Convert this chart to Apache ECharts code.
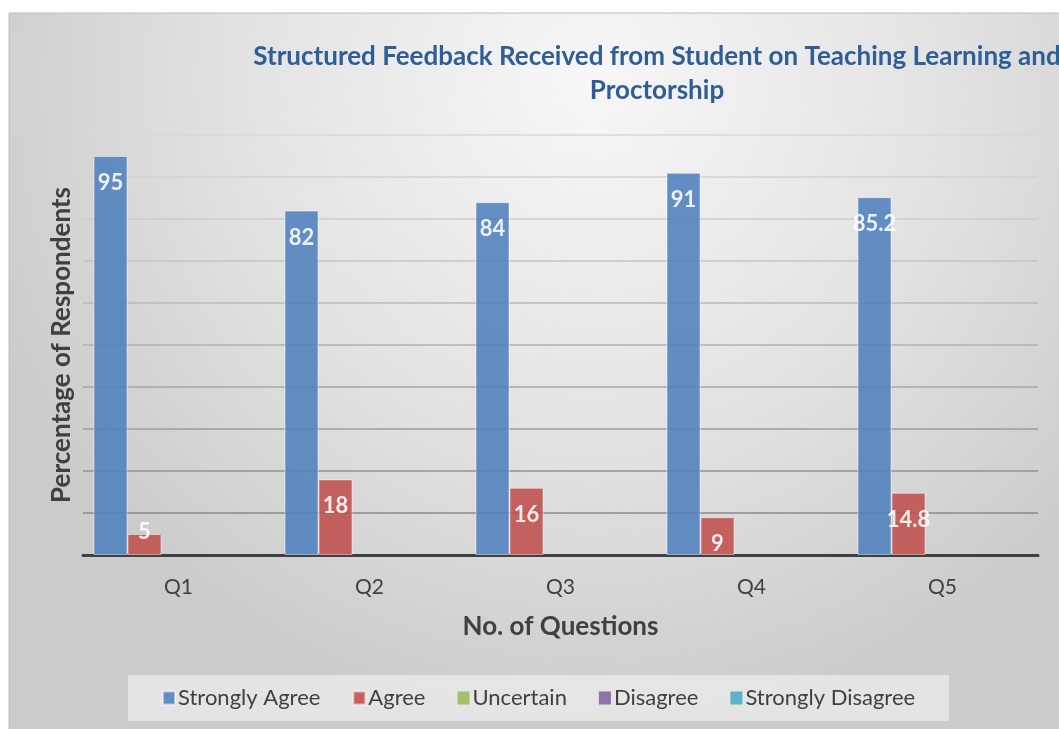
<!DOCTYPE html>
<html>
<head>
<meta charset="utf-8">
<script src="https://cdn.jsdelivr.net/npm/echarts@6.0.0/dist/echarts.min.js"></script>
<style>
  html, body { margin: 0; padding: 0; background: #fff; }
  #chart { width: 1059px; height: 729px; }
</style>
</head>
<body>
<div id="chart"></div>
<script>
const questions = ['Q1', 'Q2', 'Q3', 'Q4', 'Q5'];
const seriesNames = ['Strongly Agree', 'Agree', 'Uncertain', 'Disagree', 'Strongly Disagree'];
const stronglyAgree = [95, 82, 84, 91, 85.2];
const agree = [5, 18, 16, 9, 14.8];
const uncertain = [0, 0, 0, 0, 0];
const disagree = [0, 0, 0, 0, 0];
const stronglyDisagree = [0, 0, 0, 0, 0];

const colors = ['#4f81bd', '#c0504d', '#9bbb59', '#8064a2', '#4bacc6'];
const fontFamily = 'Lato, "Open Sans", sans-serif';

// gridlines get darker toward the bottom, like the original
const gridColors = ['#555', '#8a8a8a', '#929292', '#9c9c9c', '#a6a6a6', '#b0b0b0',
  '#bababa', '#c4c4c4', '#cccccc', '#d2d2d2', '#d8d8d8'];

function makeItems(values, showLabel) {
  return values.map((v) => {
    const item = { value: v };
    // a short bar has its label sitting above the top edge
    if (showLabel && v < 8) {
      item.label = { position: 'top', distance: -9 };
    }
    return item;
  });
}

function makeSeries(name, values, idx, showLabel) {
  return {
    name: name,
    type: 'bar',
    barGap: '0%',
    barCategoryGap: '11%',
    itemStyle: {
      color: colors[idx],
      opacity: 0.88,
      borderColor: showLabel ? 'rgba(255,255,255,0.55)' : 'transparent',
      borderWidth: showLabel ? 1 : 0
    },
    label: {
      show: showLabel,
      position: 'insideTop',
      distance: 16,
      color: '#fff',
      fontFamily: fontFamily,
      fontWeight: 'bold',
      fontSize: 22
    },
    data: makeItems(values, showLabel)
  };
}

const chart = echarts.init(document.getElementById('chart'));

const option = {
  animation: false,
  backgroundColor: '#fff',
  graphic: [
    {
      type: 'rect',
      z: -10,
      silent: true,
      shape: { x: 9, y: 13, width: 1060, height: 720 },
      style: {
        fill: {
          type: 'radial', x: 0.55, y: 0.1, r: 0.9,
          colorStops: [
            { offset: 0, color: '#f7f7f7' },
            { offset: 0.55, color: '#e2e2e2' },
            { offset: 1, color: '#cbcbcb' }
          ]
        },
        stroke: '#bdbdbd',
        lineWidth: 1
      }
    }
  ],
  title: {
    text: 'Structured Feedback Received from Student on Teaching Learning and\nProctorship',
    left: 652,
    top: 35,
    textAlign: 'center',
    textStyle: {
      fontFamily: fontFamily,
      fontWeight: 'bold',
      fontSize: 26,
      lineHeight: 34,
      color: '#2f5d96'
    }
  },
  legend: {
    left: 128,
    bottom: 8,
    data: seriesNames,
    itemWidth: 12,
    itemHeight: 13,
    itemGap: 32,
    padding: [12, 34],
    backgroundColor: 'rgba(236,236,236,0.75)',
    icon: 'rect',
    textStyle: {
      fontFamily: fontFamily,
      fontSize: 22,
      color: '#404040',
      padding: [0, 0, 0, -2]
    }
  },
  grid: {
    left: 83,
    right: 21,
    top: 135,
    bottom: 174
  },
  xAxis: {
    type: 'category',
    data: questions,
    name: 'No. of Questions',
    nameLocation: 'middle',
    nameGap: 59,
    nameTextStyle: {
      fontFamily: fontFamily,
      fontWeight: 'bold',
      fontSize: 26,
      color: '#404040'
    },
    axisLine: { lineStyle: { color: '#404040', width: 3 } },
    axisTick: { show: false },
    axisLabel: {
      margin: 22,
      fontFamily: fontFamily,
      fontSize: 21,
      color: '#404040'
    }
  },
  yAxis: {
    type: 'value',
    min: 0,
    max: 100,
    interval: 10,
    name: 'Percentage of Respondents',
    nameLocation: 'middle',
    nameGap: 8,
    nameTextStyle: {
      fontFamily: fontFamily,
      fontWeight: 'bold',
      fontSize: 26,
      color: '#404040'
    },
    axisLabel: { show: false },
    axisLine: { show: false },
    axisTick: { show: false },
    splitLine: { lineStyle: { color: gridColors, width: 1.5 } }
  },
  series: [
    makeSeries(seriesNames[0], stronglyAgree, 0, true),
    makeSeries(seriesNames[1], agree, 1, true),
    makeSeries(seriesNames[2], uncertain, 2, false),
    makeSeries(seriesNames[3], disagree, 3, false),
    makeSeries(seriesNames[4], stronglyDisagree, 4, false)
  ]
};

chart.setOption(option);
</script>
</body>
</html>
